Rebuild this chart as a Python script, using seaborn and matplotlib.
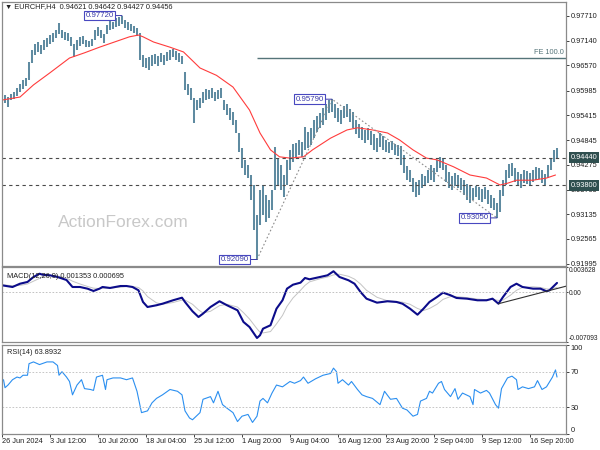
import numpy as np
import seaborn as sns
import matplotlib
matplotlib.use("Agg")
from matplotlib import pyplot as plt

# EURCHF H4, one high/low pair for every 2 bars (26 Jun .. 19 Sep 2024)
bar_high = [.9593, .9589, .9584, .9591, .9596, .9605, .9614, .9623, .9628, .9665,
            .9693, .9706, .9711, .9704, .9716, .9720, .9727, .9732, .9739, .9755,
            .9739, .9734, .9732, .9723, .9706, .9716, .9723, .9725, .9716, .9713,
            .9718, .9739, .9746, .9739, .9729, .9750, .9762, .9757, .9766, .9769,
            .9772, .9762, .9757, .9753, .9748, .9743, .9732, .9681, .9674, .9676,
            .9681, .9683, .9679, .9686, .9681, .9688, .9693, .9695, .9690, .9686,
            .9679, .9642, .9614, .9605, .9582, .9577, .9582, .9596, .9603, .9600,
            .9605, .9596, .9600, .9605, .9577, .9568, .9559, .9549, .9531, .9501,
            .9466, .9439, .9427, .9404, .9381, .9311, .9369, .9381, .9358, .9346,
            .9369, .9469, .9443, .9427, .9404, .9439, .9462, .9476, .9478, .9485,
            .9480, .9515, .9503, .9513, .9531, .9540, .9547, .9559, .9568, .9577,
            .9579, .9568, .9559, .9554, .9563, .9568, .9556, .9549, .9531, .9522,
            .9515, .9508, .9513, .9506, .9499, .9489, .9501, .9494, .9485, .9480,
            .9482, .9476, .9473, .9471, .9450, .9425, .9416, .9397, .9388, .9392,
            .9406, .9402, .9416, .9427, .9420, .9439, .9446, .9443, .9427, .9411,
            .9402, .9409, .9404, .9397, .9392, .9383, .9379, .9374, .9379, .9376,
            .9372, .9376, .9369, .9358, .9351, .9339, .9369, .9392, .9416, .9429,
            .9432, .9420, .9411, .9406, .9416, .9413, .9409, .9416, .9422, .9420,
            .9416, .9406, .9427, .9443, .9462, .9466]
bar_low = [.9577, .9570, .9561, .9577, .9579, .9586, .9596, .9603, .9609, .9623,
           .9663, .9681, .9688, .9683, .9693, .9699, .9706, .9711, .9720, .9729,
           .9720, .9716, .9713, .9702, .9676, .9693, .9702, .9706, .9699, .9699,
           .9702, .9716, .9725, .9720, .9709, .9729, .9739, .9741, .9746, .9748,
           .9753, .9743, .9739, .9736, .9732, .9725, .9669, .9653, .9651, .9646,
           .9656, .9660, .9656, .9665, .9658, .9667, .9669, .9676, .9669, .9665,
           .9660, .9600, .9589, .9577, .9524, .9554, .9559, .9570, .9577, .9579,
           .9582, .9575, .9579, .9582, .9554, .9543, .9531, .9519, .9501, .9457,
           .9420, .9404, .9397, .9346, .9277, .9209, .9289, .9311, .9296, .9305,
           .9323, .9369, .9381, .9369, .9353, .9381, .9416, .9434, .9443, .9450,
           .9446, .9462, .9466, .9473, .9489, .9503, .9513, .9519, .9531, .9547,
           .9549, .9536, .9526, .9522, .9536, .9538, .9526, .9513, .9499, .9489,
           .9485, .9478, .9485, .9473, .9462, .9457, .9469, .9462, .9457, .9455,
           .9462, .9450, .9448, .9427, .9409, .9392, .9388, .9365, .9353, .9358,
           .9374, .9379, .9386, .9392, .9388, .9411, .9420, .9416, .9388, .9374,
           .9369, .9379, .9374, .9369, .9358, .9346, .9339, .9346, .9353, .9346,
           .9342, .9349, .9337, .9328, .9323, .9305, .9318, .9355, .9381, .9397,
           .9402, .9388, .9379, .9374, .9386, .9383, .9379, .9388, .9392, .9395,
           .9386, .9381, .9397, .9416, .9434, .9443]
last_ohlc = [0.94621, 0.94642, 0.94427, 0.94456]

# red moving average
ma_bar = [0, 12, 21, 32, 45, 55, 65, 75, 85, 91, 94, 101, 112, 121, 132, 143, 154, 165, 172, 179,
          185, 192, 201, 207, 219, 230, 237, 247, 257, 265, 274, 283, 290, 301, 312, 323, 332, 337,
          343, 354, 363, 369]
ma_value = [.9577, .9584, .9612, .9640, .9674, .9686, .9699, .9711, .9723, .9727, .9723, .9711,
            .9699, .9688, .9651, .9634, .9607, .9554, .9501, .9462, .9446, .9443, .9446, .9462,
            .9489, .9508, .9513, .9508, .9501, .9485, .9462, .9443, .9439, .9423, .9404, .9397,
            .9381, .9385, .9392, .9392, .9397, .9404]

# MACD(12,26,9)
macd_bar = [0, 7, 12, 17, 21, 25, 27, 32, 37, 43, 47, 52, 57, 61, 65, 67, 72, 79, 83, 87,
            91, 94, 97, 103, 107, 114, 120, 122, 127, 131, 134, 139, 145, 150, 157, 161, 165, 170, 172, 174,
            179, 183, 187, 190, 194, 199, 202, 205, 212, 217, 221, 225, 231, 235, 239, 243, 250, 257, 263, 267,
            272, 277, 281, 285, 290, 294, 299, 303, 310, 317, 323, 327, 331, 334, 339, 343, 347, 354, 359, 363,
            365, 370]
macd_main = [.00101, .00077, .00124, .00149, .00220, .00267, .00253, .00244, .00220, .00177,
             .00077, .00077, .00053, .00020, .00053, .00077, .00063, .00091, .00091, .00077,
             .00030, -.00137, -.00209, -.00184, -.00162, -.00113, -.00076, -.00137, -.00270, -.00352,
             -.00304, -.00209, -.00127, -.00184, -.00256, -.00423, -.00495, -.00652, -.00613, -.00519,
             -.00470, -.00233, -.00113, .00053, .00110, .00139, .00206, .00187, .00220, .00244,
             .00302, .00220, .00173, .00124, .00006, -.00090, -.00147, -.00127, -.00137, -.00162,
             -.00233, -.00319, -.00233, -.00137, -.00066, -.00004, -.00041, -.00080, -.00090, -.00113,
             -.00113, -.00090, -.00162, -.00066, .00077, .00124, .00077, .00053, .00053, .00016,
             .00030, .00135]
macd_signal = [.00110, .00095, .00100, .00120, .00160, .00200, .00225, .00240, .00235, .00205,
               .00160, .00120, .00085, .00060, .00055, .00058, .00062, .00075, .00085, .00085,
               .00070, .00020, -.00060, -.00150, -.00170, -.00145, -.00110, -.00110, -.00170, -.00250,
               -.00295, -.00270, -.00190, -.00170, -.00210, -.00290, -.00380, -.00520, -.00570, -.00580,
               -.00560, -.00450, -.00330, -.00200, -.00080, .00030, .00100, .00150, .00195, .00220,
               .00250, .00260, .00230, .00190, .00120, .00030, -.00070, -.00120, -.00130, -.00140,
               -.00170, -.00230, -.00260, -.00230, -.00170, -.00100, -.00060, -.00060, -.00075, -.00095,
               -.00105, -.00100, -.00115, -.00110, -.00040, .00030, .00070, .00080, .00070, .00050,
               .00045, .00070]
macd_last = [0.001353, 0.000695]
macd_range = [-0.007093, 0.003628]

# RSI(14)
rsi_bar = [1, 2, 4, 7, 10, 12, 14, 17, 18, 21, 25, 30, 34, 37, 38, 40, 43, 45, 47, 50,
           53, 55, 59, 61, 63, 67, 69, 70, 74, 79, 83, 87, 90, 93, 97, 100, 103, 105, 107, 112,
           117, 120, 122, 125, 127, 132, 134, 139, 141, 144, 147, 150, 154, 157, 160, 164, 167, 170, 172, 174,
           177, 180, 183, 187, 192, 195, 199, 201, 204, 209, 214, 219, 221, 223, 224, 227, 231, 233, 237, 240,
           243, 247, 252, 255, 259, 263, 267, 270, 274, 277, 279, 283, 285, 287, 291, 293, 295, 299, 302, 304,
           307, 312, 314, 315, 319, 323, 325, 329, 331, 333, 337, 340, 343, 344, 347, 351, 355, 357, 360, 363,
           367, 369, 370]
rsi_value = [61, 52, 55, 61, 64, 63, 66, 66, 79, 81, 78, 81, 81, 77, 66, 70, 64, 59, 44, 55,
             61, 51, 50, 49, 64, 66, 50, 61, 63, 63, 61, 63, 48, 24, 26, 35, 40, 42, 44, 50,
             48, 44, 26, 18, 16, 24, 39, 42, 35, 48, 33, 29, 24, 14, 20, 22, 13, 20, 37, 40,
             35, 46, 55, 53, 59, 57, 60, 64, 57, 62, 66, 68, 74, 70, 57, 61, 55, 59, 50, 44,
             42, 40, 33, 48, 39, 40, 29, 27, 20, 22, 37, 40, 48, 46, 57, 59, 50, 42, 51, 39,
             46, 42, 33, 50, 46, 49, 46, 33, 29, 51, 63, 65, 61, 50, 53, 51, 53, 60, 50, 53,
             64, 72, 64]
rsi_last = 63.8932

levels = [0.94440, 0.93800]
swing_high = [0.97720, 0.95790]
swing_low = [0.92090, 0.93050]
price_ticks = [0.97710, 0.97140, 0.96570, 0.95985, 0.95415, 0.94845,
               0.94275, 0.93705, 0.93135, 0.92565, 0.91995]
time_ticks = [0, 32, 64, 96, 128, 160, 192, 224, 256, 288, 320, 352]
time_labels = ["26 Jun 2024", "3 Jul 12:00", "10 Jul 20:00", "18 Jul 04:00", "25 Jul 12:00",
               "1 Aug 20:00", "9 Aug 04:00", "16 Aug 12:00", "23 Aug 20:00", "2 Sep 04:00",
               "9 Sep 12:00", "16 Sep 20:00"]

sns.set_theme(style="white")
plt.rcParams["font.family"] = ["Liberation Sans", "DejaVu Sans"]
fs = 5.3
spine_col = "#8a8a8a"

fig = plt.figure(figsize=(6, 4.5), dpi=100, facecolor="white")
ax_p = fig.add_axes([2 / 600, 1 - 266 / 450, 564 / 600, 264 / 450])
ax_m = fig.add_axes([2 / 600, 1 - 342 / 450, 564 / 600, 75 / 450])
ax_r = fig.add_axes([2 / 600, 1 - 434 / 450, 564 / 600, 89 / 450])

for ax in (ax_p, ax_m, ax_r):
    ax.set_facecolor("white")
    ax.set_xlim(0, 376)
    for s in ax.spines.values():
        s.set_color(spine_col)
        s.set_linewidth(0.9)
    ax.yaxis.tick_right()
    ax.tick_params(axis="y", right=True, left=False, length=2.5, width=0.6, pad=1,
                   labelsize=fs, colors="#202020")
    ax.set_xlabel("")
    ax.set_ylabel("")

# ---- price panel
hi = np.array(bar_high)
lo = np.array(bar_low)
pos = np.arange(len(hi)) * 2
ax_p.vlines(pos, lo, hi, color="#5f8ba1", lw=1.45)
sns.lineplot(x=ma_bar, y=ma_value, ax=ax_p, color="#ff3c3c", lw=0.8, legend=False)
for lvl in levels:
    ax_p.axhline(lvl, color="#4a4a4a", ls=(0, (3, 3)), lw=0.8)
    ax_p.annotate(f"{lvl:.5f}", xy=(1, lvl), xycoords=("axes fraction", "data"),
                  xytext=(3.5, 0), textcoords="offset points", ha="left", va="center",
                  fontsize=fs, color="white", annotation_clip=False, zorder=5,
                  bbox=dict(boxstyle="square,pad=0.25", fc="#2f4f4f", ec="none"))

# swing points: A low, B high, C low after B
k80 = np.argmax(hi)
kb = np.argmin(np.abs(hi - swing_high[1]))
ka = np.argmin(np.abs(lo[:kb] - swing_low[0]))
kc = kb + np.argmin(np.abs(lo[kb:] - swing_low[1]))
ia, ib, ic = pos[ka], pos[kb], pos[kc]
ax_p.plot([ia, ib, ic], [swing_low[0], swing_high[1], swing_low[1]],
          color="#8c8c8c", ls=(0, (1.5, 2)), lw=0.8)
fe = swing_low[1] + swing_high[1] - swing_low[0]
ax_p.hlines(fe, ia, 376, color="#557479", lw=1.0)
ax_p.annotate("FE 100.0", xy=(1, fe), xycoords=("axes fraction", "data"),
              xytext=(-1.5, 1), textcoords="offset points", ha="right", va="bottom",
              fontsize=fs, color="#557479")

box = dict(boxstyle="square,pad=0.15", fc="white", ec="#4848c0", lw=0.8)
arrow = dict(arrowstyle="-", color="#3a3aa8", lw=0.7, shrinkA=0, shrinkB=0)
for k, val in [(k80, swing_high[0]), (kb, swing_high[1]), (ka, swing_low[0]), (kc, swing_low[1])]:
    ax_p.annotate(f"{val:.5f}", xy=(pos[k], val), xytext=(-6, 0), textcoords="offset points",
                  ha="right", va="center", fontsize=fs + 0.4, color="#3a3aa8",
                  bbox=box, arrowprops=arrow)

ax_p.text(0.2145, 0.163, "ActionForex.com", transform=ax_p.transAxes, ha="center",
          va="center", fontsize=12.5, color="#c8c8c8")
ax_p.set_ylim(0.9194, 0.98033)
ax_p.set_yticks(price_ticks)
ax_p.set_yticklabels([f"{t:.5f}" for t in price_ticks])
ax_p.tick_params(axis="x", bottom=False, labelbottom=False)
fig.text(5 / 600, 1 - 7 / 450,
         "\u25bc EURCHF,H4  " + " ".join(f"{v:.5f}" for v in last_ohlc),
         fontsize=fs, ha="left", va="center", color="#202020")

# ---- MACD panel
sns.lineplot(x=macd_bar, y=macd_signal, ax=ax_m, color="#c4c4c4", lw=0.7, legend=False)
sns.lineplot(x=macd_bar, y=macd_main, ax=ax_m, color="#0c0c8a", lw=1.5, legend=False)
ax_m.axhline(0, color="#b8b8b8", ls=(0, (2, 2)), lw=0.6)
mb = np.array(macd_bar)
mv = np.array(macd_main)
w0 = np.where(mb > 320)[0]
t0 = w0[np.argmin(mv[w0])]
w1 = np.where(mb > 355)[0]
t1 = w1[np.argmin(mv[w1])]
slope = (mv[t1] - mv[t0]) / (mb[t1] - mb[t0])
ax_m.plot([mb[t0], 376], [mv[t0], mv[t0] + slope * (376 - mb[t0])], color="#303030", lw=0.8)
ax_m.set_ylim(macd_range[0], macd_range[1])
ax_m.set_yticks([macd_range[1], 0, macd_range[0]])
ax_m.set_yticklabels([f"{macd_range[1]:.6f}", "0.00", f"{macd_range[0]:.6f}"])
ax_m.tick_params(axis="y", length=1.5, pad=0.5, labelsize=4.8)
lbls = ax_m.get_yticklabels()
lbls[0].set_va("top")
lbls[2].set_va("bottom")
ax_m.tick_params(axis="x", bottom=False, labelbottom=False)
ax_m.text(0.0089, 0.867, f"MACD(12,26,9) {macd_last[0]:.6f} {macd_last[1]:.6f}",
          transform=ax_m.transAxes, fontsize=fs, va="center", color="#202020")

# ---- RSI panel
sns.lineplot(x=rsi_bar, y=rsi_value, ax=ax_r, color="#2b8ff0", lw=0.8, legend=False)
for lv in (70, 30):
    ax_r.axhline(lv, color="#bdbdbd", ls=(0, (2, 2)), lw=0.6)
ax_r.set_ylim(0, 100)
ax_r.set_yticks([100, 70, 30, 0])
ax_r.set_yticklabels(["100", "70", "30", "0"])
lbls = ax_r.get_yticklabels()
lbls[0].set_va("top")
lbls[3].set_va("bottom")
ax_r.text(0.0089, 0.92, f"RSI(14) {rsi_last:.4f}", transform=ax_r.transAxes,
          fontsize=fs, va="center", color="#202020")
ax_r.set_xticks(time_ticks)
ax_r.set_xticklabels(time_labels)
ax_r.tick_params(axis="x", bottom=True, length=2, width=0.6, pad=1, labelsize=fs,
                 colors="#202020")
for t in ax_r.get_xticklabels():
    t.set_ha("left")

fig.savefig("out.png", dpi=100, facecolor="white")
